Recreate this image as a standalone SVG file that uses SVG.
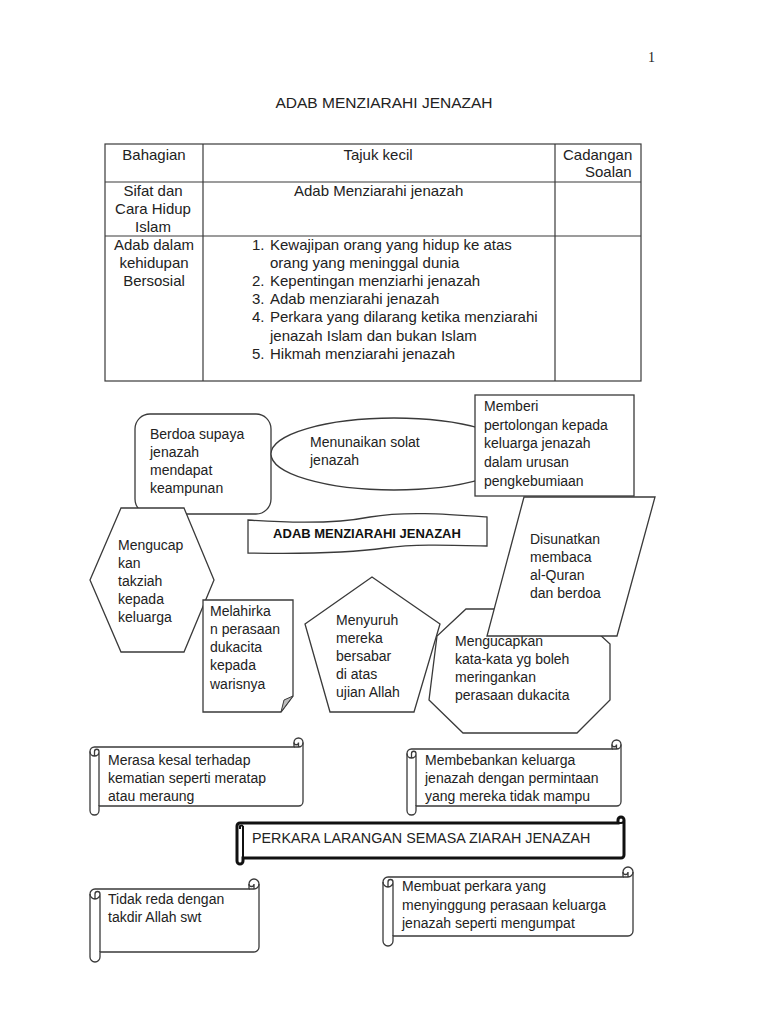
<svg xmlns="http://www.w3.org/2000/svg" width="768" height="1024" viewBox="0 0 768 1024">
<style>
.t{font-family:"Liberation Sans",Arial,sans-serif;font-size:14px;fill:#222}
.tb{font-family:"Liberation Sans",Arial,sans-serif;font-size:15px;fill:#222}
.c{text-anchor:middle}
.s{fill:#fff;stroke:#3a3a3a;stroke-width:1.3}
.d{fill:none;stroke:#3a3a3a;stroke-width:1.3}
.g{fill:none;stroke:#3a3a3a;stroke-width:1.2}
</style>
<rect width="768" height="1024" fill="#fff"/>
<text x="648" y="62" style="font-family:'Liberation Serif',serif;font-size:14px;fill:#222">1</text>
<text x="384" y="108" class="t c" style="font-size:15.5px">ADAB MENZIARAHI JENAZAH</text>

<g id="table">
<rect x="105" y="144" width="536" height="237" class="g"/>
<line x1="203" y1="144" x2="203" y2="381" class="g"/>
<line x1="555" y1="144" x2="555" y2="381" class="g"/>
<line x1="105" y1="182" x2="641" y2="182" class="g"/>
<line x1="105" y1="236" x2="641" y2="236" class="g"/>
<text x="154" y="160" class="tb c">Bahagian</text>
<text x="378" y="160" class="tb c">Tajuk kecil</text>
<text x="563" y="160" class="tb">Cadangan</text>
<text x="585" y="177" class="tb">Soalan</text>
<text x="153" y="196" class="tb c">Sifat dan</text>
<text x="153" y="214" class="tb c">Cara Hidup</text>
<text x="153" y="232" class="tb c">Islam</text>
<text x="294" y="196" class="tb">Adab Menziarahi jenazah</text>
<text x="154" y="250" class="tb c">Adab dalam</text>
<text x="154" y="268" class="tb c">kehidupan</text>
<text x="154" y="286" class="tb c">Bersosial</text>
<text x="252" y="250" class="tb">1.</text>
<text x="270" y="250" class="tb">Kewajipan orang yang hidup ke atas</text>
<text x="270" y="268" class="tb">orang yang meninggal dunia</text>
<text x="252" y="286" class="tb">2.</text>
<text x="270" y="286" class="tb">Kepentingan menziarhi jenazah</text>
<text x="252" y="304" class="tb">3.</text>
<text x="270" y="304" class="tb">Adab menziarahi jenazah</text>
<text x="252" y="322" class="tb">4.</text>
<text x="270" y="322" class="tb">Perkara yang dilarang ketika menziarahi</text>
<text x="270" y="341" class="tb">jenazah Islam dan bukan Islam</text>
<text x="252" y="359" class="tb">5.</text>
<text x="270" y="359" class="tb">Hikmah menziarahi jenazah</text>
</g>

<g id="connectors"></g>

<g id="node-berdoa">
<rect x="135" y="414" width="136" height="100" rx="15" class="s"/>
<text class="t"><tspan x="150" y="439">Berdoa supaya</tspan><tspan x="150" y="457">jenazah</tspan><tspan x="150" y="475">mendapat</tspan><tspan x="150" y="493">keampunan</tspan></text>
</g>

<g id="node-solat">
<ellipse cx="394" cy="454" rx="123" ry="36" class="s"/>
<text class="t"><tspan x="310" y="447">Menunaikan solat</tspan><tspan x="310" y="465">jenazah</tspan></text>
</g>

<g id="node-memberi">
<rect x="475" y="395" width="159" height="101" class="s"/>
<text class="t"><tspan x="484" y="411">Memberi</tspan><tspan x="484" y="430">pertolongan kepada</tspan><tspan x="484" y="448">keluarga jenazah</tspan><tspan x="484" y="467">dalam urusan</tspan><tspan x="484" y="486">pengkebumiaan</tspan></text>
</g>

<g id="node-title">
<path d="M248,520 C290,523 335,524 370,517 C405,511 445,514 487,517 L487,546 C445,545 415,544 385,548 C350,553 300,554 248,553 Z" class="s"/>
<text x="367" y="538" class="c" style="font-family:'Liberation Sans',Arial,sans-serif;font-size:13px;font-weight:bold;fill:#111">ADAB MENZIARAHI JENAZAH</text>
</g>

<g id="node-mengucap">
<polygon points="121,508 184,508 214,580 184,652 121,652 90,580" class="s"/>
<text class="t"><tspan x="118" y="550">Mengucap</tspan><tspan x="118" y="568">kan</tspan><tspan x="118" y="586">takziah</tspan><tspan x="118" y="604">kepada</tspan><tspan x="118" y="622">keluarga</tspan></text>
</g>

<g id="node-mengucapkan">
<polygon points="466,609 572,609 610,644 610,700 577,733 463,733 429,700 437,636" class="s"/>
<text class="t"><tspan x="455" y="646">Mengucapkan</tspan><tspan x="455" y="664">kata-kata yg boleh</tspan><tspan x="455" y="682">meringankan</tspan><tspan x="455" y="700">perasaan dukacita</tspan></text>
</g>

<g id="node-disunatkan">
<polygon points="524,497 655,497 617,636 487,636" class="s"/>
<text class="t"><tspan x="530" y="544">Disunatkan</tspan><tspan x="530" y="562">membaca</tspan><tspan x="530" y="580">al-Quran</tspan><tspan x="530" y="598">dan berdoa</tspan></text>
</g>

<g id="node-menyuruh">
<polygon points="372,577 440,624 414,712 330,712 305,624" class="s"/>
<text class="t"><tspan x="336" y="625">Menyuruh</tspan><tspan x="336" y="643">mereka</tspan><tspan x="336" y="661">bersabar</tspan><tspan x="336" y="679">di atas</tspan><tspan x="336" y="697">ujian Allah</tspan></text>
</g>

<g id="node-melahirkan">
<path d="M203,600 H293 V696 L281,712 H203 Z" class="s"/>
<path d="M293,696 L281,712 L284,700 Z" style="fill:#bdbdbd;stroke:#3a3a3a;stroke-width:1"/>
<text class="t"><tspan x="210" y="616">Melahirka</tspan><tspan x="210" y="634">n perasaan</tspan><tspan x="210" y="652">dukacita</tspan><tspan x="210" y="670">kepada</tspan><tspan x="210" y="689">warisnya</tspan></text>
</g>

<g id="node-merasa">
<path d="M90,751.5 A4.5,4.5 0 0 1 94.5,747 L294,747 L294,742.5 A4.5,4.5 0 0 1 303,742.5 L303,801.5 A4.5,4.5 0 0 1 298.5,806 L99,806 L99,810.5 A4.5,4.5 0 0 1 90,810.5 Z" class="s"/>
<path d="M294,747 L298.5,747 A4.5,4.5 0 0 0 303,742.5 M298.5,747 L298.5,742.5 A2.25,2.25 0 0 1 294,742.5 M94.5,756 L94.5,751.5 A2.25,2.25 0 0 1 99,751.5 A4.5,4.5 0 0 1 90,751.5 M99,751.5 L99,806" class="d"/>
<text class="t"><tspan x="108" y="765">Merasa kesal terhadap</tspan><tspan x="108" y="783">kematian seperti meratap</tspan><tspan x="108" y="801">atau meraung</tspan></text>
</g>

<g id="node-membebankan">
<path d="M407,753.5 A4.5,4.5 0 0 1 411.5,749 L612,749 L612,744.5 A4.5,4.5 0 0 1 621,744.5 L621,801.5 A4.5,4.5 0 0 1 616.5,806 L416,806 L416,810.5 A4.5,4.5 0 0 1 407,810.5 Z" class="s"/>
<path d="M612,749 L616.5,749 A4.5,4.5 0 0 0 621,744.5 M616.5,749 L616.5,744.5 A2.25,2.25 0 0 1 612,744.5 M411.5,758 L411.5,753.5 A2.25,2.25 0 0 1 416,753.5 A4.5,4.5 0 0 1 407,753.5 M416,753.5 L416,806" class="d"/>
<text class="t"><tspan x="425" y="765">Membebankan keluarga</tspan><tspan x="425" y="783">jenazah dengan permintaan</tspan><tspan x="425" y="801">yang mereka tidak mampu</tspan></text>
</g>

<g id="node-perkara">
<path d="M237,826 A3,3 0 0 1 240,823 L618,823 L618,820 A3,3 0 0 1 624,820 L624,855 A3,3 0 0 1 621,858 L243,858 L243,861 A3,3 0 0 1 237,861 Z" style="fill:#fff;stroke:#111;stroke-width:3"/>
<path d="M618,823 L621,823 A3,3 0 0 0 624,820 M240,829 L240,826 A3,3 0 0 1 243,826 M243,826 L243,858" style="fill:none;stroke:#111;stroke-width:2"/>
<text x="252" y="843" class="t" style="font-size:14.3px">PERKARA LARANGAN SEMASA ZIARAH JENAZAH</text>
</g>

<g id="node-tidak-reda">
<path d="M90,894 A5,5 0 0 1 95,889 L249,889 L249,884 A5,5 0 0 1 259,884 L259,947 A5,5 0 0 1 254,952 L100,952 L100,957 A5,5 0 0 1 90,957 Z" class="s"/>
<path d="M249,889 L254,889 A5,5 0 0 0 259,884 M254,889 L254,884 A2.5,2.5 0 0 1 249,884 M95,899 L95,894 A2.5,2.5 0 0 1 100,894 A5,5 0 0 1 90,894 M100,894 L100,952" class="d"/>
<text class="t"><tspan x="108" y="904">Tidak reda dengan</tspan><tspan x="108" y="922">takdir Allah swt</tspan></text>
</g>

<g id="node-membuat">
<path d="M383,882 A5,5 0 0 1 388,877 L623,877 L623,872 A5,5 0 0 1 633,872 L633,931 A5,5 0 0 1 628,936 L393,936 L393,941 A5,5 0 0 1 383,941 Z" class="s"/>
<path d="M623,877 L628,877 A5,5 0 0 0 633,872 M628,877 L628,872 A2.5,2.5 0 0 1 623,872 M388,887 L388,882 A2.5,2.5 0 0 1 393,882 A5,5 0 0 1 383,882 M393,882 L393,936" class="d"/>
<text class="t"><tspan x="402" y="891">Membuat perkara yang</tspan><tspan x="402" y="910">menyinggung perasaan keluarga</tspan><tspan x="402" y="928">jenazah seperti mengumpat</tspan></text>
</g>
</svg>
